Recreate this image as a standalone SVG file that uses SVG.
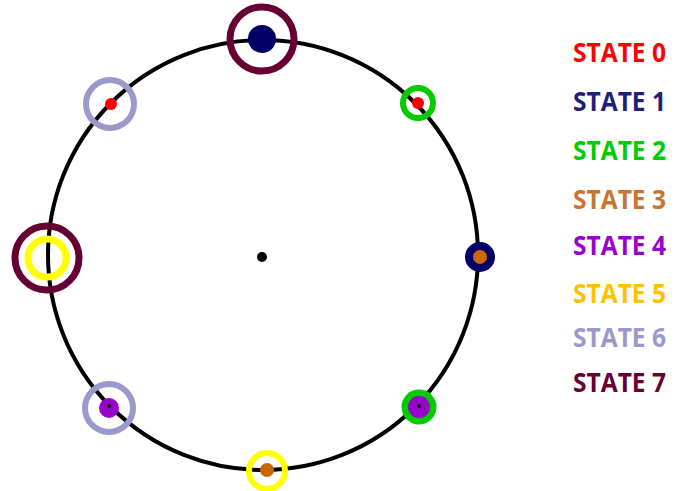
<svg xmlns="http://www.w3.org/2000/svg" width="677" height="491" viewBox="0 0 677 491">
<style>
.lbl{font-family:"Open Sans","Liberation Sans",sans-serif;font-weight:bold;font-size:26px}
.ring{fill:none}
</style>
<rect width="677" height="491" fill="#fff"/>
<g id="connectors">
<circle cx="263" cy="255" r="215" fill="none" stroke="#000" stroke-width="4"/>
</g>
<g id="center"><circle cx="262" cy="257" r="5" fill="#000"/></g>
<g id="node-top">
<circle class="ring" cx="262" cy="39" r="32" stroke="#660033" stroke-width="7"/>
<circle cx="262" cy="39" r="14" fill="#000066"/>
</g>
<g id="node-upper-left">
<circle class="ring" cx="110" cy="104" r="24" stroke="#9999CC" stroke-width="6"/>
<circle cx="111" cy="104" r="6" fill="#FF0000"/>
</g>
<g id="node-upper-right">
<circle class="ring" cx="418" cy="103" r="15" stroke="#00CC00" stroke-width="6"/>
<circle cx="418" cy="103" r="6" fill="#FF0000"/>
</g>
<g id="node-left">
<circle class="ring" cx="47" cy="258" r="32" stroke="#660033" stroke-width="7"/>
<circle class="ring" cx="47" cy="258" r="19" stroke="#FFFF00" stroke-width="7"/>
</g>
<g id="node-right">
<circle cx="480" cy="257" r="15" fill="#000066"/>
<circle cx="480" cy="257" r="7" fill="#CC6600"/>
</g>
<g id="node-lower-left">
<circle class="ring" cx="109" cy="408" r="24" stroke="#9999CC" stroke-width="6"/>
<circle cx="109" cy="408" r="10" fill="#9900CC"/>
<circle cx="109" cy="406" r="2" fill="#000"/>
</g>
<g id="node-lower-right">
<circle cx="419" cy="407" r="17.5" fill="#00CC00"/>
<circle cx="419" cy="407" r="11" fill="#9900CC"/>
<circle cx="419" cy="406" r="2" fill="#000"/>
</g>
<g id="node-bottom">
<circle class="ring" cx="267" cy="471" r="18" stroke="#FFFF00" stroke-width="6"/>
<circle cx="267" cy="470" r="7" fill="#CC6600"/>
</g>
<g id="legend">
<text class="lbl" x="573" y="62" fill="#FF0000" textLength="93" lengthAdjust="spacingAndGlyphs">STATE 0</text>
<text class="lbl" x="573" y="111" fill="#1F1F7A" textLength="93" lengthAdjust="spacingAndGlyphs">STATE 1</text>
<text class="lbl" x="573" y="160" fill="#00CC00" textLength="93" lengthAdjust="spacingAndGlyphs">STATE 2</text>
<text class="lbl" x="573" y="209" fill="#C87533" textLength="93" lengthAdjust="spacingAndGlyphs">STATE 3</text>
<text class="lbl" x="573" y="255" fill="#9900CC" textLength="93" lengthAdjust="spacingAndGlyphs">STATE 4</text>
<text class="lbl" x="573" y="303" fill="#FFC000" textLength="93" lengthAdjust="spacingAndGlyphs">STATE 5</text>
<text class="lbl" x="573" y="347" fill="#9999CC" textLength="93" lengthAdjust="spacingAndGlyphs">STATE 6</text>
<text class="lbl" x="573" y="392" fill="#660033" textLength="93" lengthAdjust="spacingAndGlyphs">STATE 7</text>
</g>
</svg>
